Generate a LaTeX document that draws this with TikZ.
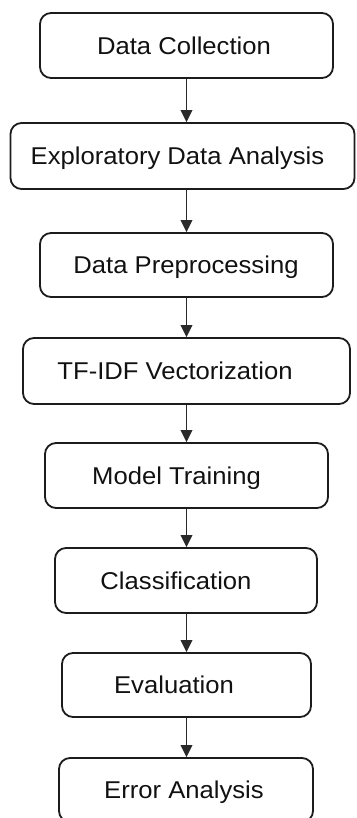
\documentclass[tikz,border=0pt]{standalone}
\usepackage{fontspec}
\setmainfont{Liberation Sans}[FakeStretch=1.055]
\usetikzlibrary{arrows.meta}
\definecolor{boxc}{HTML}{1C1C1C}
\definecolor{arrc}{HTML}{2A2A2A}
\definecolor{txtc}{HTML}{111111}
\begin{document}
\begin{tikzpicture}[x=1pt,y=-1pt,
  box/.style={draw=boxc, line width=1.8pt, rounded corners=11pt, rectangle, inner sep=0pt},
  lbl/.style={anchor=base, text=txtc, inner sep=0pt, font=\fontsize{24.3}{29}\selectfont},
  arr/.style={draw=arrc, line width=1.9pt, -{Triangle[length=12pt,width=11.5pt]}}]
\useasboundingbox (0,0) rectangle (356,818);
\clip (0,0) rectangle (356,818);
\node[box, minimum width=293pt, minimum height=65pt] (b1) at (186.5,45.5) {};
\node[box, minimum width=344pt, minimum height=66pt] (b2) at (182.5,156) {};
\node[box, minimum width=293pt, minimum height=64pt] (b3) at (186.5,265) {};
\node[box, minimum width=327pt, minimum height=66pt] (b4) at (186.5,371) {};
\node[box, minimum width=283pt, minimum height=65pt] (b5) at (186.5,475.5) {};
\node[box, minimum width=262pt, minimum height=65pt] (b6) at (186,580.5) {};
\node[box, minimum width=249pt, minimum height=64pt] (b7) at (186.5,685) {};
\node[box, minimum width=254pt, minimum height=64pt] (b8) at (186,790) {};
\node[lbl] (t1) at (184,54.2) {Data Collection};
\node[lbl] (t2) at (177.5,164.7) {Exploratory Data Analysis};
\node[lbl] (t3) at (186,273.7) {Data Preprocessing};
\node[lbl] (t4) at (175,379.7) {TF-IDF Vectorization};
\node[lbl] (t5) at (176.5,484.2) {Model Training};
\node[lbl] (t6) at (176,589.2) {Classification};
\node[lbl] (t7) at (174,693.7) {Evaluation};
\node[lbl] (t8) at (184,798.7) {Error Analysis};
\coordinate (ax) at (186.5,0);
\draw[arr] (b1.south -| ax) -- (b2.north -| ax);
\draw[arr] (b2.south -| ax) -- (b3.north -| ax);
\draw[arr] (b3.south -| ax) -- (b4.north -| ax);
\draw[arr] (b4.south -| ax) -- (b5.north -| ax);
\draw[arr] (b5.south -| ax) -- (b6.north -| ax);
\draw[arr] (b6.south -| ax) -- (b7.north -| ax);
\draw[arr] (b7.south -| ax) -- (b8.north -| ax);
\end{tikzpicture}
\end{document}
